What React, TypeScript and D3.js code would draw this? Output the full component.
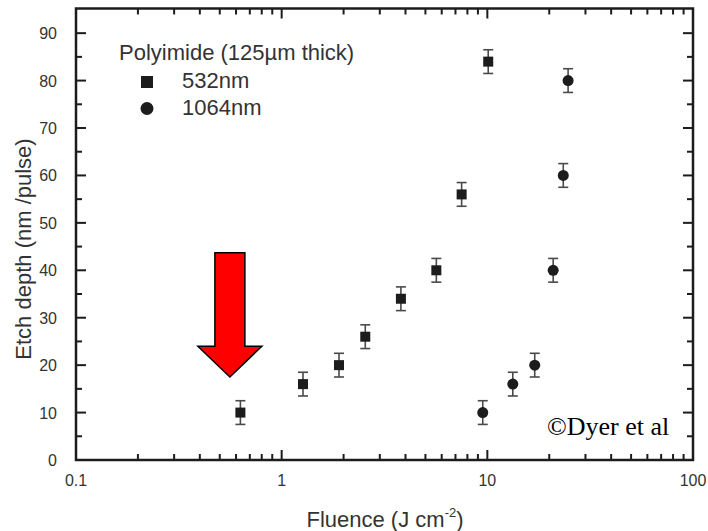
import React, { useEffect, useRef } from 'react';
import * as d3 from 'd3';

// 532 nm series (squares)
const fluence532 = [0.63, 1.27, 1.9, 2.55, 3.8, 5.65, 7.5, 10.1];
const depth532 = [10, 16, 20, 26, 34, 40, 56, 84];
// 1064 nm series (circles)
const fluence1064 = [9.5, 13.3, 17.0, 20.9, 23.4, 24.7];
const depth1064 = [10, 16, 20, 40, 60, 80];
const errorBar = 2.5;

const yTicks = [0, 10, 20, 30, 40, 50, 60, 70, 80, 90];
const xTicks = [0.1, 1, 10, 100];
const xTickLabels = ['0.1', '1', '10', '100'];
const legendTitle = 'Polyimide (125\u00b5m thick)';
const seriesNames = ['532nm', '1064nm'];

// red arrow annotation, in data units
const arrowFluence = 0.56;
const arrowTop = 43.7;
const arrowHeadBase = 24;
const arrowTip = 17.5;

const W = 708, H = 531;
const M = { left: 76, right: 693, top: 8.5, bottom: 460 };

export default function App() {
  const ref = useRef<SVGSVGElement>(null);

  useEffect(() => {
    document.body.style.margin = '0';
    const svg = d3.select(ref.current);
    svg.selectAll('*').remove();

    const x = d3.scaleLog().domain([0.1, 100]).range([M.left, M.right]);
    const y = d3.scaleLinear().domain([0, 95.2]).range([M.bottom, M.top]);
    const ink = '#1c1c1c';
    const font = 'Arial, "Liberation Sans", Helvetica, sans-serif';

    // ticks, all pointing inward
    const ticks = svg.append('g').attr('stroke', ink).attr('stroke-width', 2);
    const minorY = d3.range(5, 95, 10);
    const tickY = (v: number, len: number) => {
      ticks.append('line').attr('x1', M.left).attr('x2', M.left + len).attr('y1', y(v)).attr('y2', y(v));
      ticks.append('line').attr('x1', M.right).attr('x2', M.right - len).attr('y1', y(v)).attr('y2', y(v));
    };
    yTicks.forEach(v => tickY(v, 10));
    minorY.forEach(v => tickY(v, 6));

    const minorX: number[] = [];
    [0.1, 1, 10].forEach(d => d3.range(2, 10).forEach(k => minorX.push(d * k)));
    const tickX = (v: number, len: number) => {
      ticks.append('line').attr('x1', x(v)).attr('x2', x(v)).attr('y1', M.bottom).attr('y2', M.bottom - len);
      ticks.append('line').attr('x1', x(v)).attr('x2', x(v)).attr('y1', M.top).attr('y2', M.top + len);
    };
    xTicks.forEach(v => tickX(v, 10));
    minorX.forEach(v => tickX(v, 6));

    // frame
    svg.append('rect')
      .attr('x', M.left).attr('y', M.top)
      .attr('width', M.right - M.left).attr('height', M.bottom - M.top)
      .attr('fill', 'none').attr('stroke', ink).attr('stroke-width', 2.5);

    // tick labels
    svg.append('g').selectAll('text').data(yTicks).enter().append('text')
      .attr('x', M.left - 19).attr('y', d => y(d) + 6)
      .attr('text-anchor', 'end').attr('font-family', font).attr('font-size', 16).attr('fill', '#333')
      .text(d => String(d));
    svg.append('g').selectAll('text').data(xTicks).enter().append('text')
      .attr('x', d => x(d)).attr('y', M.bottom + 26)
      .attr('text-anchor', 'middle').attr('font-family', font).attr('font-size', 16).attr('fill', '#333')
      .text((d, i) => xTickLabels[i]);

    // axis titles
    const xl = svg.append('text')
      .attr('x', 385).attr('y', 527)
      .attr('text-anchor', 'middle').attr('font-family', font).attr('font-size', 22).attr('fill', '#333');
    xl.append('tspan').text('Fluence (J cm');
    xl.append('tspan').attr('font-size', 13).attr('dy', -10).text('-2');
    xl.append('tspan').attr('dy', 10).text(')');

    svg.append('text')
      .attr('transform', 'translate(31,249) rotate(-90)')
      .attr('text-anchor', 'middle').attr('font-family', font).attr('font-size', 22).attr('fill', '#333')
      .text('Etch depth (nm /pulse)');

    // error bars
    const errs = svg.append('g').attr('stroke', '#4a4a4a').attr('stroke-width', 1.6);
    const drawErr = (xs: number[], ys: number[]) => {
      xs.forEach((f, i) => {
        const cx = x(f), lo = y(ys[i] - errorBar), hi = y(ys[i] + errorBar);
        errs.append('line').attr('x1', cx).attr('x2', cx).attr('y1', lo).attr('y2', hi);
        errs.append('line').attr('x1', cx - 5).attr('x2', cx + 5).attr('y1', lo).attr('y2', lo);
        errs.append('line').attr('x1', cx - 5).attr('x2', cx + 5).attr('y1', hi).attr('y2', hi);
      });
    };
    drawErr(fluence532, depth532);
    drawErr(fluence1064, depth1064);

    // markers
    svg.append('g').selectAll('rect').data(fluence532).enter().append('rect')
      .attr('x', d => x(d) - 5).attr('y', (d, i) => y(depth532[i]) - 5)
      .attr('width', 10).attr('height', 10).attr('fill', ink);
    svg.append('g').selectAll('circle').data(fluence1064).enter().append('circle')
      .attr('cx', d => x(d)).attr('cy', (d, i) => y(depth1064[i]))
      .attr('r', 5.5).attr('fill', ink);

    // legend
    svg.append('text').attr('x', 119).attr('y', 60)
      .attr('font-family', font).attr('font-size', 22).attr('fill', '#333').text(legendTitle);
    svg.append('rect').attr('x', 141).attr('y', 76).attr('width', 12).attr('height', 12).attr('fill', ink);
    svg.append('circle').attr('cx', 147).attr('cy', 108.5).attr('r', 6.5).attr('fill', ink);
    seriesNames.forEach((n, i) => {
      svg.append('text').attr('x', 182).attr('y', 88 + i * 27)
        .attr('font-family', font).attr('font-size', 22).attr('fill', '#333').text(n);
    });

    // copyright note
    svg.append('text').attr('x', 547).attr('y', 435)
      .attr('font-family', '"Liberation Serif", "Times New Roman", serif').attr('font-size', 26)
      .attr('fill', '#000').text('\u00a9Dyer et al');

    // red arrow
    const ax = x(arrowFluence);
    const arrow = d3.path();
    arrow.moveTo(ax - 15, y(arrowTop));
    arrow.lineTo(ax + 15, y(arrowTop));
    arrow.lineTo(ax + 15, y(arrowHeadBase));
    arrow.lineTo(ax + 32, y(arrowHeadBase));
    arrow.lineTo(ax, y(arrowTip));
    arrow.lineTo(ax - 32, y(arrowHeadBase));
    arrow.lineTo(ax - 15, y(arrowHeadBase));
    arrow.closePath();
    svg.append('path').attr('d', arrow.toString())
      .attr('fill', '#ff0000').attr('stroke', '#000').attr('stroke-width', 1.5).attr('stroke-linejoin', 'miter');
  }, []);

  return <svg ref={ref} width={W} height={H} style={{ display: 'block', background: '#fff' }} />;
}
